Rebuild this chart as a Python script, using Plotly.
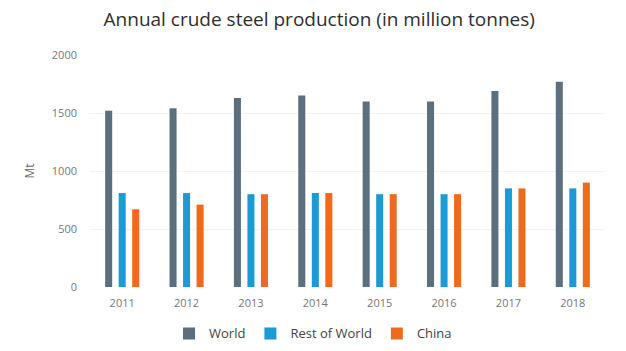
import plotly.graph_objects as go

years = ["2011", "2012", "2013", "2014", "2015", "2016", "2017", "2018"]
world = [1520, 1540, 1630, 1650, 1600, 1600, 1690, 1770]
rest_of_world = [810, 810, 800, 810, 800, 800, 850, 850]
china = [670, 710, 800, 810, 800, 800, 850, 900]

series = [
    ("World", world, "#5b6f7e"),
    ("Rest of World", rest_of_world, "#1b9ad6"),
    ("China", china, "#f06a1e"),
]

fig = go.Figure()
for name, vals, color in series:
    fig.add_trace(go.Bar(x=years, y=vals, name=name, marker=dict(color=color, line=dict(width=0))))

fig.update_layout(
    width=626, height=351,
    margin=dict(l=90, r=21, t=55, b=64, autoexpand=False),
    paper_bgcolor="white", plot_bgcolor="white",
    barmode="group", bargap=0.37, bargroupgap=0.48,
    font=dict(family="Open Sans, sans-serif", color="#666666", size=11),
    title=dict(text="Annual crude steel production (in million tonnes)",
               x=0.51, xanchor="center", y=0.945, yanchor="middle",
               font=dict(size=19, color="#2e2e2e")),
    legend=dict(orientation="h", xref="container", x=0.27, xanchor="left",
                yref="container", y=0.05, yanchor="middle",
                font=dict(size=13, color="#444444")),
    xaxis=dict(showgrid=False, showline=False, ticks="", ticklabelstandoff=8,
               tickfont=dict(size=11, color="#777777")),
    yaxis=dict(range=[0, 2000], tickvals=[0, 500, 1000, 1500, 2000], showgrid=True,
               gridcolor="#f3f3f3", zeroline=False, ticklabelstandoff=12,
               tickfont=dict(size=11, color="#777777"),
               title=dict(text="Mt", font=dict(size=12, color="#666666"), standoff=14)),
)

fig.write_html("out.html")
